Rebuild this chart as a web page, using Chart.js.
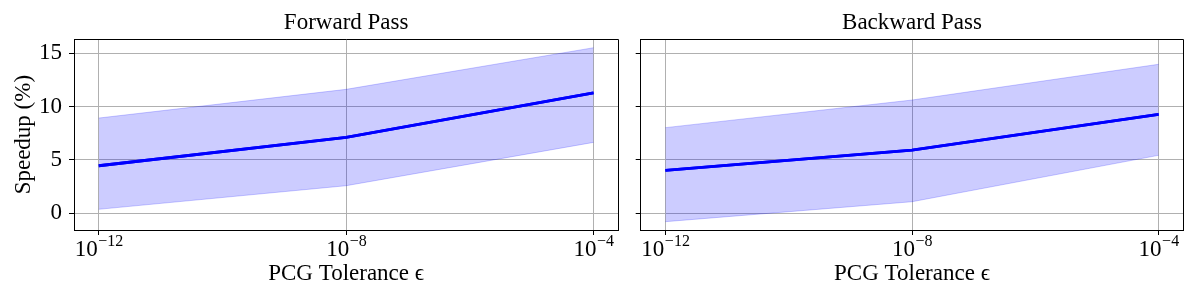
<!DOCTYPE html>
<html><head><meta charset="utf-8">
<script src="https://cdn.jsdelivr.net/npm/chart.js@4.4.1/dist/chart.umd.min.js"></script>
<style>
html,body{margin:0;padding:0;background:#fff;width:1200px;height:300px;overflow:hidden}
canvas{position:absolute;top:0}
#c1{left:0}
#c2{left:620px}
</style></head><body>
<canvas id="c1" width="620" height="300"></canvas>
<canvas id="c2" width="580" height="300"></canvas>
<script>
const tolerances = [1e-12, 1e-8, 1e-4];
const xTickValues = [1e-12, 1e-8, 1e-4];
const xTickExponents = ['\u221212', '\u22128', '\u22124'];
const yTickValues = [0, 5, 10, 15];
const forwardMean = [4.46, 7.12, 11.3];
const forwardUpper = [8.93, 11.62, 15.52];
const forwardLower = [0.38, 2.59, 6.65];
const backwardMean = [4.03, 5.93, 9.28];
const backwardUpper = [8.03, 10.62, 13.97];
const backwardLower = [-0.78, 1.09, 5.44];
const titles = ['Forward Pass', 'Backward Pass'];
const xTitle = 'PCG Tolerance \u03f5';
const yTitle = 'Speedup (%)';

const FONT = "'Liberation Serif', 'DejaVu Serif', serif";
const FS = 23;

function ap(p) { return Math.round(p - 0.5) + 0.5; }

const framePlugin = {
  id: 'frame',
  afterDraw(chart) {
    const {ctx, chartArea: a, scales} = chart;
    // mean line above the grid (like matplotlib zorder)
    ctx.save();
    chart.getDatasetMeta(0).controller.draw();
    ctx.restore();
    ctx.save();
    ctx.strokeStyle = '#000';
    ctx.lineWidth = 1;
    const l = ap(a.left), t = ap(a.top), r = ap(a.right), b = ap(a.bottom);
    ctx.beginPath();
    ctx.moveTo(l, b); ctx.lineTo(l, t); ctx.lineTo(r, t); ctx.lineTo(r, b); ctx.closePath();
    ctx.stroke();
    ctx.fillStyle = '#000';
    ctx.textBaseline = 'alphabetic';
    ctx.textAlign = 'left';
    xTickValues.forEach((v, i) => {
      const px = scales.x.getPixelForValue(v);
      ctx.font = FS + 'px ' + FONT;
      const w1 = ctx.measureText('10').width;
      ctx.font = '16px ' + FONT;
      const w2 = ctx.measureText(xTickExponents[i]).width;
      const x0 = px - (w1 + w2) / 2;
      ctx.font = FS + 'px ' + FONT;
      ctx.fillText('10', x0, 255.5);
      ctx.font = '16px ' + FONT;
      ctx.fillText(xTickExponents[i], x0 + w1 + 0.5, 245.5);
    });
    ctx.restore();
  }
};

function pts(arr) { return tolerances.map((x, i) => ({x: x, y: arr[i]})); }

function makeChart(id, title, mean, upper, lower, showY, yAxisWidth, padRight) {
  return new Chart(document.getElementById(id), {
    type: 'line',
    data: {datasets: [
      {data: pts(mean), borderColor: '#0000ff', borderWidth: 2.8, pointRadius: 0, fill: false, tension: 0},
      {data: pts(upper), borderColor: 'rgba(0,0,255,0.2)', borderWidth: 1, pointRadius: 0, fill: '+1', backgroundColor: 'rgba(0,0,255,0.2)', tension: 0},
      {data: pts(lower), borderColor: 'rgba(0,0,255,0.2)', borderWidth: 1, pointRadius: 0, fill: false, tension: 0}
    ]},
    options: {
      responsive: false, animation: false, devicePixelRatio: 1,
      layout: {padding: {left: 0, right: padRight, top: 0, bottom: 0}},
      plugins: {
        legend: {display: false}, tooltip: {enabled: false},
        title: {display: true, text: title, fullSize: false, color: '#000',
          font: {family: FONT, size: FS, weight: 'normal'}, padding: {top: 9.5, bottom: 2.2}}
      },
      scales: {
        x: {
          type: 'logarithmic', bounds: 'data', min: Math.pow(10, -12.4), max: Math.pow(10, -3.6), z: 1,
          afterBuildTicks: s => { s.ticks = xTickValues.map(v => ({value: v})); },
          afterFit: s => { s.height = 70; },
          ticks: {callback: () => '', autoSkip: false, maxRotation: 0},
          grid: {color: '#b0b0b0', tickColor: '#000', tickLength: 5, lineWidth: 1},
          border: {color: '#000', width: 1},
          title: {display: true, text: xTitle, color: '#000', font: {family: FONT, size: FS, weight: 'normal'}, padding: {top: 0, bottom: 12.5}}
        },
        y: {
          type: 'linear', bounds: 'data', min: -1.56, max: 16.31, z: 1,
          afterBuildTicks: s => { s.ticks = yTickValues.map(v => ({value: v})); },
          afterFit: s => { s.width = yAxisWidth; },
          ticks: {callback: showY ? (v => String(v)) : (() => ''), color: '#000', font: {family: FONT, size: FS}, padding: 7, autoSkip: false},
          grid: {color: '#b0b0b0', tickColor: '#000', tickLength: 5, lineWidth: 1},
          border: {color: '#000', width: 1},
          title: {display: showY, text: yTitle, color: '#000', font: {family: FONT, size: FS, weight: 'normal'}, padding: {top: 10.5, bottom: 0}}
        }
      }
    },
    plugins: [framePlugin]
  });
}

makeChart('c1', titles[0], forwardMean, forwardUpper, forwardLower, true, 74, 1.7);
makeChart('c2', titles[1], backwardMean, backwardUpper, backwardLower, false, 20.7, 16.7);
</script>
</body></html>
